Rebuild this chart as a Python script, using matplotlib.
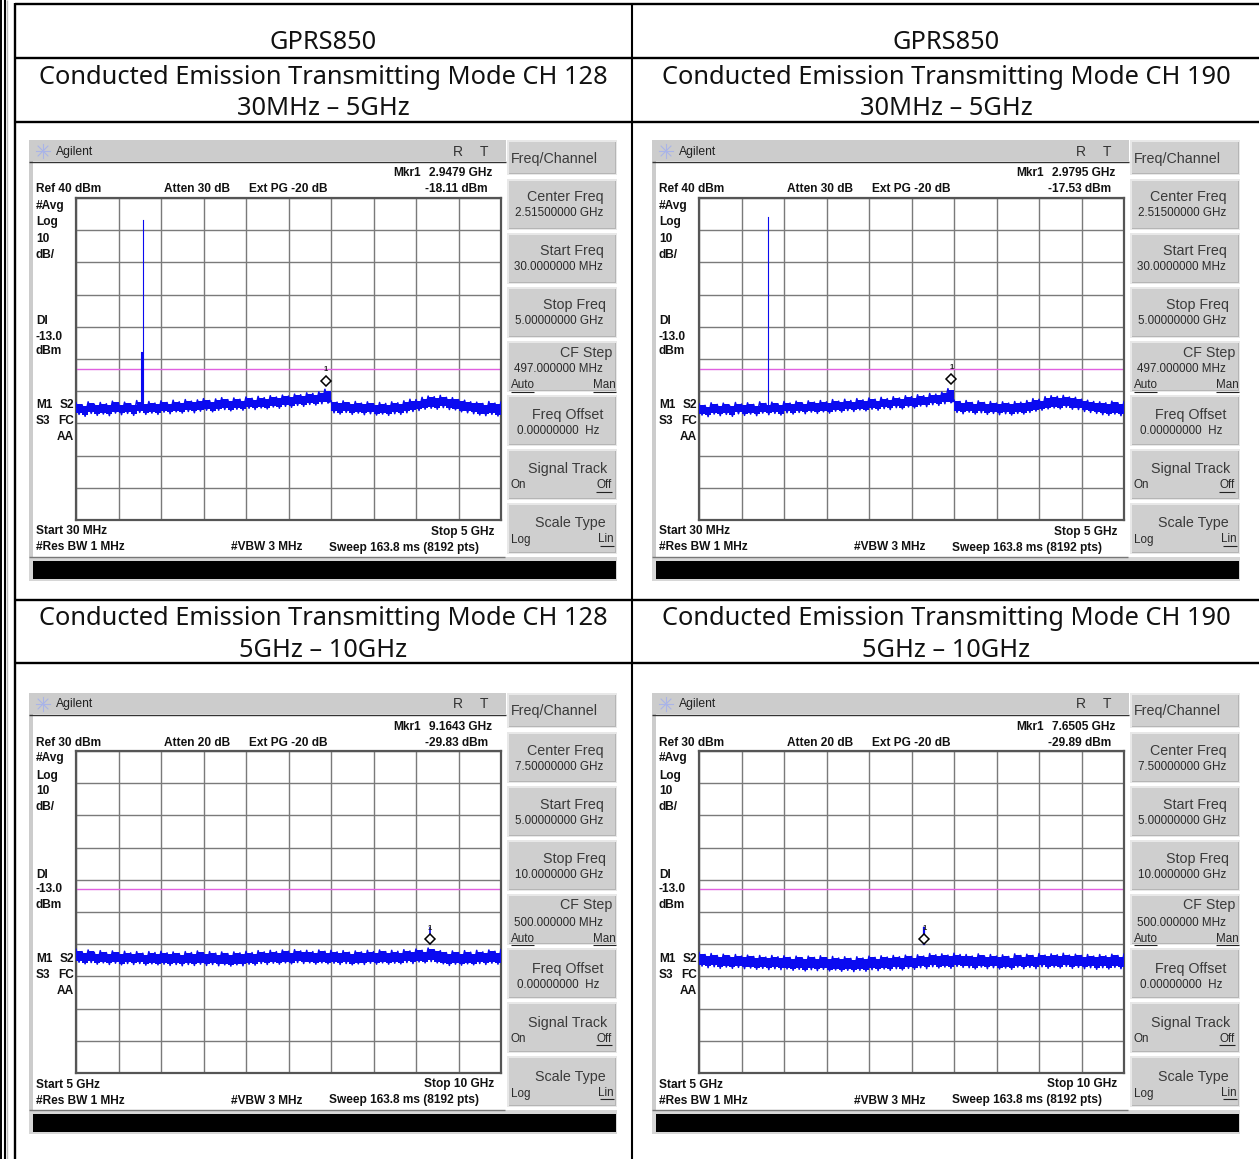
import numpy as np
import matplotlib
matplotlib.use("Agg")
import matplotlib.pyplot as plt
from matplotlib.patches import Rectangle
from matplotlib.transforms import offset_copy

W, H = 1259, 1159

# ---------------- data ----------------
row_titles = ["Conducted Emission Transmitting Mode CH 128", "Conducted Emission Transmitting Mode CH 190"]
band_low = "30MHz \u2013 5GHz"
band_high = "5GHz \u2013 10GHz"
column_head = "GPRS850"

p1_hi = [-23.6,-24.2,-23.3,-24.0,-23.5,-23.9,-23.1,-23.8,-23.4,-23.9,-22.9,-23.6,-23.2,-23.7,-23.0,-23.5,-22.8,-23.3,-22.6,-23.1,-22.7,-22.3,-22.9,-22.4,-22.0,-22.6,-22.1,-22.5,-21.8,-22.2,-21.6,-22.0,-21.4,-21.8,-21.2,-21.5,-20.9,-21.1,-20.5,-20.7,-20.2,-19.4,
         -22.9,-23.4,-23.0,-23.6,-23.2,-23.7,-23.3,-23.9,-23.5,-23.8,-23.3,-23.6,-23.0,-22.5,-22.6,-21.9,-21.5,-21.7,-21.3,-21.9,-22.0,-22.6,-22.8,-23.3,-23.4,-23.8,-23.2,-23.7,-23.3]
p1_lo = [-27.2,-27.8,-26.9,-27.5,-27.1,-27.6,-26.8,-27.3,-26.9,-27.5,-26.6,-27.2,-26.8,-27.2,-26.5,-27.0,-26.4,-26.8,-26.3,-26.7,-26.2,-25.9,-26.4,-25.9,-25.7,-26.1,-25.6,-25.9,-25.3,-25.7,-25.2,-25.5,-24.9,-25.3,-24.7,-25.0,-24.4,-24.7,-24.1,-24.3,-23.9,-23.7,
         -26.7,-27.1,-26.6,-27.2,-26.8,-27.3,-27.0,-27.4,-27.1,-27.5,-27.0,-27.2,-26.7,-26.3,-26.0,-25.6,-25.3,-25.6,-25.1,-25.7,-25.8,-26.4,-26.7,-27.0,-27.4,-27.6,-27.2,-27.7,-27.3]
p2_hi = [-23.9,-24.4,-23.6,-24.1,-23.7,-24.3,-23.5,-24.0,-23.6,-24.1,-23.3,-23.8,-23.4,-23.9,-23.2,-23.7,-23.1,-23.6,-23.0,-23.4,-22.9,-23.3,-22.6,-23.1,-22.5,-22.9,-22.3,-22.7,-22.1,-22.5,-21.9,-22.3,-21.7,-22.1,-21.4,-21.7,-21.1,-21.4,-20.7,-20.9,-20.3,-19.2,
         -22.7,-23.2,-22.9,-23.5,-23.0,-23.5,-23.2,-23.7,-23.3,-23.7,-23.2,-23.4,-22.9,-22.3,-22.5,-21.7,-21.4,-21.6,-21.3,-21.8,-21.9,-22.5,-22.8,-23.2,-23.3,-23.6,-23.1,-23.6,-23.2]
p2_lo = [-27.4,-27.9,-27.1,-27.6,-27.2,-27.8,-27.0,-27.5,-27.1,-27.6,-26.8,-27.3,-26.9,-27.4,-26.7,-27.1,-26.6,-27.0,-26.5,-26.9,-26.4,-26.8,-26.2,-26.5,-26.0,-26.3,-25.8,-26.1,-25.6,-25.9,-25.4,-25.7,-25.1,-25.5,-24.9,-25.2,-24.6,-24.8,-24.2,-24.4,-23.9,-23.6,
         -26.6,-27.0,-26.5,-27.1,-26.7,-27.2,-26.9,-27.3,-27.0,-27.4,-26.9,-27.1,-26.6,-26.2,-25.9,-25.5,-25.2,-25.5,-25.0,-25.6,-25.7,-26.3,-26.6,-26.9,-27.3,-27.5,-27.1,-27.6,-27.2]
p3_hi = [-31.6,-32.3,-31.8,-32.5,-32.0,-32.6,-32.1,-32.7,-32.2,-32.7,-32.3,-32.8,-32.3,-32.6,-32.2,-32.7,-32.4,-32.9,-32.3,-32.6,-32.1,-32.7,-32.3,-32.8,-32.4,-32.9,-32.4,-32.7,-32.2,-32.6,-32.0,-32.4,-31.9,-32.3,-31.8,-32.2,-31.7,-32.1,-31.9,-32.3,-31.8,-32.2,-31.9,-32.4,-32.0,-32.5,-32.1,-32.4,-31.9,-32.3,-31.8,-32.3,-31.9,-32.2,-31.7,-32.1,-31.5,-31.9,-31.2,-31.7,-32.0,-32.6,-32.1,-32.6,-32.0,-32.5,-31.9,-32.4,-31.8,-32.2,-31.6]
p3_lo = [-35.6,-36.1,-35.7,-36.2,-35.8,-36.3,-35.9,-36.4,-36.0,-36.3,-36.0,-36.5,-36.1,-36.4,-36.2,-36.6,-36.3,-36.7,-36.3,-36.6,-36.2,-36.6,-36.3,-36.7,-36.4,-36.8,-36.4,-36.7,-36.2,-36.5,-36.0,-36.3,-35.9,-36.2,-35.8,-36.1,-35.7,-36.0,-35.8,-36.2,-35.8,-36.1,-35.9,-36.3,-36.0,-36.4,-36.1,-36.3,-35.9,-36.2,-35.8,-36.2,-35.9,-36.1,-35.7,-36.0,-35.5,-35.8,-35.4,-35.8,-36.1,-36.6,-36.2,-36.5,-36.1,-36.4,-36.0,-36.3,-35.9,-36.2,-35.7]
p4_hi = [-32.6,-33.2,-32.9,-33.5,-33.1,-33.6,-33.2,-33.7,-33.4,-33.8,-33.5,-34.0,-33.5,-33.9,-33.6,-34.1,-33.7,-34.2,-33.7,-34.1,-33.6,-34.2,-33.8,-34.3,-33.9,-34.4,-33.9,-34.3,-33.7,-34.1,-33.6,-34.0,-33.5,-33.9,-33.4,-33.8,-33.3,-33.7,-32.9,-33.3,-33.0,-33.4,-32.8,-33.2,-33.2,-33.7,-33.0,-33.6,-33.2,-33.7,-33.3,-33.8,-33.0,-33.5,-33.1,-33.5,-32.9,-33.4,-33.0,-33.3,-32.8,-33.4,-33.1,-33.5,-33.2,-33.7,-33.2,-33.6,-33.1,-33.5,-33.0]
p4_lo = [-36.8,-37.3,-37.0,-37.5,-37.1,-37.5,-37.2,-37.6,-37.4,-37.8,-37.5,-37.9,-37.6,-37.9,-37.7,-38.1,-37.8,-38.3,-37.9,-38.2,-37.8,-38.3,-38.0,-38.4,-38.1,-38.5,-38.1,-38.4,-37.9,-38.2,-37.7,-38.1,-37.6,-38.0,-37.5,-37.8,-37.3,-37.6,-37.0,-37.4,-37.1,-37.5,-36.9,-37.2,-37.3,-37.7,-37.1,-37.6,-37.3,-37.7,-37.4,-37.8,-37.1,-37.6,-37.2,-37.6,-37.0,-37.5,-37.1,-37.4,-36.9,-37.5,-37.2,-37.6,-37.3,-37.8,-37.3,-37.7,-37.2,-37.6,-37.1]

p1_spikes = [(0.815, 33.2, 0.8), (0.805, -8.0, 1.5)]
p2_spikes = [(0.837, 34.1, 0.8)]
p3_spikes = [(9.1643, -29.83, 1.2)]
p4_spikes = [(7.6505, -29.89, 1.6)]

panels = [
 dict(ox=29,  oy=140, start=0.03, stop=5.0,  ref=40, hi=p1_hi, lo=p1_lo, spikes=p1_spikes, mf=2.9479, mv=-18.11,
      mkr="2.9479 GHz", atten="Atten 30 dB", startl="Start 30 MHz", stopl="Stop 5 GHz",
      cf="2.51500000 GHz", sf="30.0000000 MHz", pf="5.00000000 GHz", step="497.000000 MHz"),
 dict(ox=652, oy=140, start=0.03, stop=5.0,  ref=40, hi=p2_hi, lo=p2_lo, spikes=p2_spikes, mf=2.9795, mv=-17.53,
      mkr="2.9795 GHz", atten="Atten 30 dB", startl="Start 30 MHz", stopl="Stop 5 GHz",
      cf="2.51500000 GHz", sf="30.0000000 MHz", pf="5.00000000 GHz", step="497.000000 MHz"),
 dict(ox=29,  oy=693, start=5.0,  stop=10.0, ref=30, hi=p3_hi, lo=p3_lo, spikes=p3_spikes, mf=9.1643, mv=-29.83,
      mkr="9.1643 GHz", atten="Atten 20 dB", startl="Start 5 GHz", stopl="Stop 10 GHz",
      cf="7.50000000 GHz", sf="5.00000000 GHz", pf="10.0000000 GHz", step="500.000000 MHz"),
 dict(ox=652, oy=693, start=5.0,  stop=10.0, ref=30, hi=p4_hi, lo=p4_lo, spikes=p4_spikes, mf=7.6505, mv=-29.89,
      mkr="7.6505 GHz", atten="Atten 20 dB", startl="Start 5 GHz", stopl="Stop 10 GHz",
      cf="7.50000000 GHz", sf="5.00000000 GHz", pf="10.0000000 GHz", step="500.000000 MHz"),
]
display_line = -13.0
# -------------------------------------------------------------

fig = plt.figure(figsize=(W/100, H/100), dpi=100, facecolor="white")
bg = fig.add_axes([0, 0, 1, 1], zorder=0)
bg.set_xlim(0, W); bg.set_ylim(H, 0); bg.axis("off")

TITLE = "Noto Sans"
INST = "Liberation Sans"

def hline(x0, x1, y, c="black", lw=1.5, z=2):
    bg.plot([x0, x1], [y, y], color=c, lw=lw, solid_capstyle="butt", zorder=z)
def vline(x, y0, y1, c="black", lw=1.5, z=2):
    bg.plot([x, x], [y0, y1], color=c, lw=lw, solid_capstyle="butt", zorder=z)
def rect(x, y, w, h, fc, z=1):
    bg.add_patch(Rectangle((x, y), w, h, fc=fc, ec="none", zorder=z))

# page table rules
vline(0.8, 0, H, lw=1.4)
vline(5, 0, H, lw=1.5)
vline(7, 0, H, c="#bbbbbb", lw=1.0)
vline(15, 3, H, lw=1.7)
vline(632, 3, H, lw=1.5)
for y in (4, 58, 122, 600, 663):
    hline(15, W, y, lw=1.7)

def title(x, y, s):
    bg.text(x, y, s, family=TITLE, fontsize=18.3, ha="center", va="center", color="#111111", zorder=5)

for cx, name in zip((323, 946), row_titles):
    title(cx, 42.5, column_head)
    title(cx, 77, name)
    title(cx, 108.5, band_low)
    title(cx, 618.5, name)
    title(cx, 650.5, band_high)

def t(ox, oy, x, y, s, ha="left", bold=True, size=8.55, c="#111111"):
    bg.text(ox + x, oy + y + 1.5, s, family=INST, fontsize=size, fontweight="bold" if bold else "normal",
            ha=ha, va="center", color=c, zorder=6)

def softkey(ox, oy, y0, h):
    x0 = 478
    w = 110
    rect(ox + x0, oy + y0, w, h, "#e8e8e8", z=2)
    rect(ox + x0 + 2, oy + y0 + 2, w - 3, h - 3, "#b5b5b5", z=3)
    rect(ox + x0 + 2, oy + y0 + 2, w - 4, h - 4, "#cfcfcf", z=4)

def key(ox, oy, lbl, lx, ly, ha="right"):
    t(ox, oy, lx, ly, lbl, ha=ha, bold=False, size=10.3, c="#3a3a3a")
def sub(ox, oy, lbl, lx, ly, ha="right"):
    t(ox, oy, lx, ly, lbl, ha=ha, bold=False, size=8.4, c="#2a2a2a")
def under(ox, oy, x0, x1, y):
    hline(ox + x0, ox + x1, oy + y, c="#222222", lw=0.8, z=7)

for p in panels:
    ox, oy = p["ox"], p["oy"]
    # instrument body
    rect(ox, oy, 588, 441, "#ffffff", z=1)
    rect(ox, oy, 477, 21, "#cccccc", z=2)
    hline(ox, ox + 477, oy + 21.5, c="#333333", lw=1.0, z=3)
    rect(ox, oy + 21, 4, 396, "#cccccc", z=2)
    hline(ox, ox + 476, oy + 417, c="#777777", lw=1.0, z=3)
    rect(ox, oy + 417, 588, 24, "#d6d6d6", z=2)
    rect(ox + 4, oy + 421, 583, 18, "#000000", z=3)

    # Agilent logo
    a = np.deg2rad(np.arange(0, 360, 45))
    for ang in a:
        bg.plot([ox + 14, ox + 14 + 7*np.cos(ang)], [oy + 11, oy + 11 + 7*np.sin(ang)],
                color="#a9b4e8", lw=0.8, zorder=5)
    t(ox, oy, 27, 10, "Agilent", bold=False, size=8.7, c="#222222")
    t(ox, oy, 424, 10, "R", bold=False, size=10.0, c="#333333")
    t(ox, oy, 451, 10, "T", bold=False, size=10.0, c="#333333")

    # annotation text
    t(ox, oy, 364, 32, "Mkr1")
    t(ox, oy, 463, 32, p["mkr"], ha="right")
    t(ox, oy, 459, 48, "%.2f dBm" % p["mv"], ha="right")
    t(ox, oy, 7, 48, "Ref %d dBm" % p["ref"])
    t(ox, oy, 135, 48, p["atten"])
    t(ox, oy, 220, 48, "Ext PG -20 dB")
    for yy, s in zip((64, 81, 97, 113, 180, 195, 210), ("#Avg", "Log", "10", "dB/", "DI", "-13.0", "dBm")):
        t(ox, oy, 7, yy, s)
    t(ox, oy, 7, 264, "M1")
    t(ox, oy, 45, 264, "S2", ha="right")
    t(ox, oy, 7, 280, "S3")
    t(ox, oy, 45, 280, "FC", ha="right")
    t(ox, oy, 45, 296, "AA", ha="right")
    t(ox, oy, 7, 390, p["startl"])
    t(ox, oy, 465, 390, p["stopl"], ha="right")
    t(ox, oy, 7, 406, "#Res BW 1 MHz")
    t(ox, oy, 202, 406, "#VBW 3 MHz")
    t(ox, oy, 300, 406, "Sweep 163.8 ms (8192 pts)")

    # softkeys
    softkey(ox, oy, 0, 35)
    for y0 in (39, 93, 147, 201, 255, 309, 363):
        softkey(ox, oy, y0, 51)
    key(ox, oy, "Freq/Channel", 482, 17, ha="left")
    key(ox, oy, "Center Freq", 575, 56); sub(ox, oy, p["cf"], 574, 72)
    key(ox, oy, "Start Freq", 575, 110); sub(ox, oy, p["sf"], 574, 126)
    key(ox, oy, "Stop Freq", 577, 164); sub(ox, oy, p["pf"], 574, 180)
    key(ox, oy, "CF Step", 583, 211); sub(ox, oy, p["step"], 485, 228, ha="left")
    sub(ox, oy, "Auto", 482, 244, ha="left"); under(ox, oy, 482, 505, 252)
    sub(ox, oy, "Man", 587, 244); under(ox, oy, 564, 587, 252)
    key(ox, oy, "Freq Offset", 574, 274); sub(ox, oy, "0.00000000  Hz", 488, 290, ha="left")
    key(ox, oy, "Signal Track", 578, 328); sub(ox, oy, "On", 482, 344, ha="left")
    sub(ox, oy, "Off", 583, 344); under(ox, oy, 567, 583, 352)
    key(ox, oy, "Scale Type", 577, 382); sub(ox, oy, "Log", 482, 399, ha="left")
    sub(ox, oy, "Lin", 585, 398); under(ox, oy, 571, 585, 406)

    # measurement plot
    px0, px1 = ox + 47, ox + 472
    py0, py1 = oy + 58, oy + 380
    ax = fig.add_axes([px0/W, 1 - py1/H, (px1 - px0)/W, (py1 - py0)/H], zorder=3, facecolor="white")
    ax.set_xlim(p["start"], p["stop"])
    ax.set_ylim(p["ref"] - 100, p["ref"])
    ax.set_xticks(np.linspace(p["start"], p["stop"], 11))
    ax.set_yticks(np.arange(p["ref"] - 100, p["ref"] + 1, 10))
    ax.tick_params(length=0, labelbottom=False, labelleft=False)
    ax.grid(True, color="#7a7a7a", lw=1.0)
    ax.set_axisbelow(True)
    for s in ax.spines.values():
        s.set_color("#555555"); s.set_linewidth(1.6)

    ax.axhline(display_line, color="#e060e0", lw=1.0, zorder=2)
    hi = np.array(p["hi"])
    lo = np.array(p["lo"])
    f = np.linspace(p["start"], p["stop"], len(hi))
    df = f[1] - f[0]
    # dense core of the noisy trace, with its teeth drawn on top
    ax.fill_between(f, lo + 0.4, hi - 0.4, color="#0a0af0", lw=0, step="post", zorder=3)
    zx = np.ravel(np.column_stack((f, f + df/2)))
    zy = np.ravel(np.column_stack((hi, lo)))
    ax.plot(zx, zy, color="#0a0af0", lw=1.1, zorder=3)
    for sf, sv, slw in p["spikes"]:
        ax.plot([sf, sf], [-25, sv], color="#0a0af0", lw=slw, zorder=4)

    tr = offset_copy(ax.transData, fig=fig, x=0, y=4.5, units="dots")
    ax.plot([p["mf"]], [p["mv"]], marker="D", ms=4.6, mfc="white", mec="black", mew=1.1,
            transform=tr, zorder=5, clip_on=False)
    ax.annotate("1", (p["mf"], p["mv"]), xytext=(0, 11), textcoords="offset points", ha="center", va="center",
                fontsize=5.5, family=INST, fontweight="bold", color="#222222", zorder=5)

fig.savefig("out.png", dpi=100)
